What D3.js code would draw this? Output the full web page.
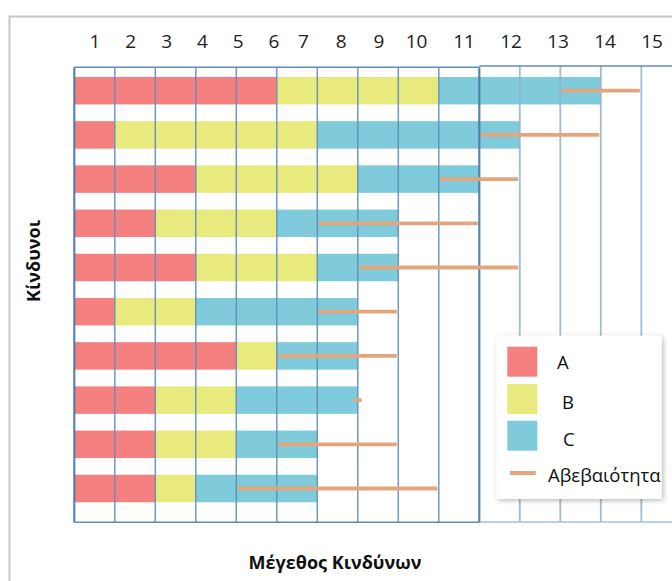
<!DOCTYPE html>
<html>
<head>
<meta charset="utf-8">
<script src="https://cdn.jsdelivr.net/npm/d3@7"></script>
<style>
  html, body { margin: 0; padding: 0; background: #fff; }
  svg { display: block; font-family: "Open Sans", "DejaVu Sans", sans-serif; }
</style>
</head>
<body>
<svg id="chart" width="672" height="581"></svg>
<script>
// Risks (rows, top to bottom) and the size of each risk's components
const risks = ["R1", "R2", "R3", "R4", "R5", "R6", "R7", "R8", "R9", "R10"];
const seriesNames = ["A", "B", "C"];
const valuesA = [5, 1, 3, 2, 3, 1, 4, 2, 2, 2];
const valuesB = [4, 5, 4, 3, 3, 2, 1, 2, 2, 1];
const valuesC = [4, 5, 3, 3, 2, 4, 2, 3, 2, 3];
// Uncertainty range for each risk
const uncertaintyLow  = [12, 10, 9, 6, 7, 6, 5, 6.87, 5, 4];
const uncertaintyHigh = [14, 13, 11, 10, 11, 8, 8, 7.13, 8, 9];
// Column headers
const tickLabels = ["1", "2", "3", "4", "5", "6", "7", "8", "9", "10", "11", "12", "13", "14", "15"];
const uncertaintyName = "Αβεβαιότητα";
const xTitle = "Μέγεθος Κινδύνων";
const yTitle = "Κίνδυνοι";

const colors = { A: "#f48080", B: "#e8ea7d", C: "#80cbdb" };
const uncertaintyColor = "#e4a57a";

const svg = d3.select("#chart");

// Outer frame
svg.append("path")
  .attr("d", "M9.5,581 V16.5 H672")
  .attr("fill", "none").attr("stroke", "#c8c8c8").attr("stroke-width", 2);

const x = d3.scaleLinear().domain([0, 14]).range([74.3, 641.3]);
const y = d3.scaleBand().domain(risks).range([68.6, 510.6])
  .paddingInner(0.378).paddingOuter(0.189);

const gridTop = 67.3, gridBottom = 522.3;

// Stacked bars
const rows = risks.map((r, i) => ({ risk: r, A: valuesA[i], B: valuesB[i], C: valuesC[i] }));
const stacked = d3.stack().keys(seriesNames)(rows);

const barLayer = svg.append("g");
barLayer.selectAll("g")
  .data(stacked)
  .join("g")
  .attr("fill", d => colors[d.key])
  .selectAll("rect")
  .data(d => d)
  .join("rect")
  .attr("x", d => x(d[0]))
  .attr("width", d => x(d[1]) - x(d[0]))
  .attr("y", d => y(d.data.risk))
  .attr("height", y.bandwidth());

// Grid: main table (0..10) and the extension (10..15)
const grid = svg.append("g").attr("fill", "none");
const mainCols = d3.range(0, 11);
const extCols = d3.range(11, 16);

grid.selectAll("line.ext")
  .data(extCols)
  .join("line")
  .attr("class", "ext")
  .attr("x1", d => x(d)).attr("x2", d => x(d))
  .attr("y1", 66).attr("y2", 522)
  .attr("stroke", "#8fb0d0").attr("stroke-width", 1.8).attr("stroke-opacity", 0.85);

grid.append("line")
  .attr("x1", x(10)).attr("x2", 672).attr("y1", 522).attr("y2", 522)
  .attr("stroke", "#a9c1da").attr("stroke-width", 1.6);
grid.append("line")
  .attr("x1", x(10)).attr("x2", 672).attr("y1", 66).attr("y2", 66)
  .attr("stroke", "#5f8dbb").attr("stroke-width", 1.6);

grid.selectAll("line.main")
  .data(mainCols)
  .join("line")
  .attr("class", "main")
  .attr("x1", d => x(d)).attr("x2", d => x(d))
  .attr("y1", gridTop).attr("y2", gridBottom)
  .attr("stroke", d => (d === 0 || d === 10) ? "#4677a8" : "#5f8dbb")
  .attr("stroke-width", d => (d === 0 || d === 10) ? 2.2 : 1.5)
  .attr("stroke-opacity", 0.9);

[gridTop, gridBottom].forEach(v => {
  grid.append("line")
    .attr("x1", x(0)).attr("x2", x(10)).attr("y1", v).attr("y2", v)
    .attr("stroke", "#5f8dbb").attr("stroke-width", 1.6);
});

// Uncertainty ranges
svg.append("g")
  .selectAll("line")
  .data(risks.map((r, i) => ({ risk: r, lo: uncertaintyLow[i], hi: uncertaintyHigh[i] })))
  .join("line")
  .attr("x1", d => x(d.lo) + 1.5)
  .attr("x2", d => x(d.hi) - 1.5)
  .attr("y1", d => y(d.risk) + y.bandwidth() / 2)
  .attr("y2", d => y(d.risk) + y.bandwidth() / 2)
  .attr("stroke", uncertaintyColor).attr("stroke-width", 3.8);

// Column headers
const headerX = d3.scaleLinear()
  .domain([1, 6, 7, 10, 11, 15])
  .range([95, 274, 303.5, 416.5, 464, 652]);
svg.append("g")
  .selectAll("text")
  .data(tickLabels)
  .join("text")
  .attr("x", (d, i) => headerX(i + 1))
  .attr("y", 47.5)
  .attr("text-anchor", "middle")
  .attr("font-size", 19)
  .attr("fill", "#222")
  .text(d => d);

// Axis titles
svg.append("text")
  .attr("x", 335).attr("y", 568.5)
  .attr("text-anchor", "middle")
  .attr("font-size", 18).attr("font-weight", "bold").attr("fill", "#111")
  .text(xTitle);

svg.append("text")
  .attr("transform", "translate(39.5,261) rotate(-90)")
  .attr("text-anchor", "middle")
  .attr("font-size", 18).attr("font-weight", "bold").attr("fill", "#111")
  .text(yTitle);

// Legend
const defs = svg.append("defs");
const shadow = defs.append("filter").attr("id", "legendShadow")
  .attr("x", "-10%").attr("y", "-10%").attr("width", "125%").attr("height", "125%");
shadow.append("feDropShadow")
  .attr("dx", 1.5).attr("dy", 1.5).attr("stdDeviation", 2.5)
  .attr("flood-color", "#000").attr("flood-opacity", 0.28);

const legend = svg.append("g");
legend.append("rect")
  .attr("x", 496.7).attr("y", 335.7).attr("width", 165).attr("height", 163.3)
  .attr("fill", "#fff").attr("filter", "url(#legendShadow)");

const swatchY = [346.7, 384, 420.7];
const labelX = [557, 562, 563];
const labelY = [369, 409, 445.7];
seriesNames.forEach((name, i) => {
  legend.append("rect")
    .attr("x", 507.3).attr("y", swatchY[i]).attr("width", 30).attr("height", 30)
    .attr("fill", colors[name]);
  legend.append("text")
    .attr("x", labelX[i]).attr("y", labelY[i])
    .attr("font-size", 18.5).attr("fill", "#111")
    .text(name);
});
legend.append("line")
  .attr("x1", 510).attr("x2", 535.7).attr("y1", 473).attr("y2", 473)
  .attr("stroke", uncertaintyColor).attr("stroke-width", 4);
legend.append("text")
  .attr("x", 548).attr("y", 481.7)
  .attr("font-size", 18.5).attr("fill", "#111")
  .text(uncertaintyName);
</script>
</body>
</html>
